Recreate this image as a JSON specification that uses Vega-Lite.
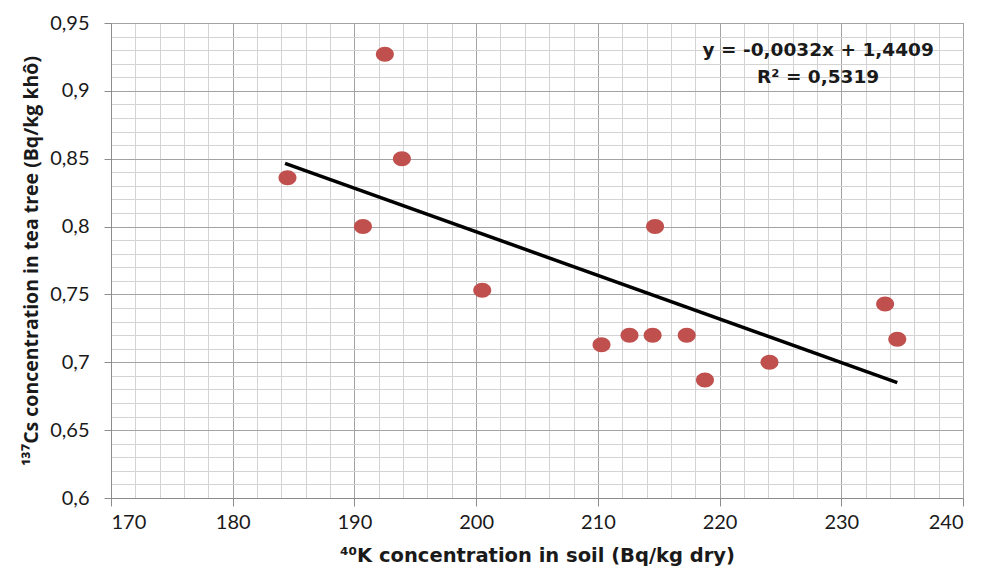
{
  "$schema": "https://vega.github.io/schema/vega-lite/v6.json",
  "width": 852,
  "height": 475,
  "autosize": {"type": "none"},
  "padding": {"left": 111, "top": 23, "right": 19, "bottom": 74},
  "background": "white",
  "config": {
    "font": "Lato",
    "view": {"stroke": "#9a9a9a", "strokeWidth": 1}
  },
  "data": {
    "values": [
      {"k": 184.5, "cs": 0.836},
      {"k": 192.5, "cs": 0.927},
      {"k": 193.9, "cs": 0.850},
      {"k": 190.7, "cs": 0.800},
      {"k": 200.5, "cs": 0.753},
      {"k": 210.3, "cs": 0.713},
      {"k": 212.6, "cs": 0.720},
      {"k": 214.5, "cs": 0.720},
      {"k": 214.7, "cs": 0.800},
      {"k": 217.3, "cs": 0.720},
      {"k": 218.8, "cs": 0.687},
      {"k": 224.1, "cs": 0.700},
      {"k": 233.6, "cs": 0.743},
      {"k": 234.6, "cs": 0.717}
    ]
  },
  "layer": [
    {
      "mark": {"type": "point", "opacity": 0},
      "encoding": {
        "x": {
          "field": "k", "type": "quantitative",
          "scale": {"domain": [170, 240], "nice": false, "zero": false},
          "axis": {
            "orient": "bottom",
            "values": [172,174,176,178,182,184,186,188,192,194,196,198,202,204,206,208,212,214,216,218,222,224,226,228,232,234,236,238],
            "grid": true, "gridColor": "#d3d3d3", "gridWidth": 1,
            "labels": false, "ticks": false, "domain": false, "title": null
          }
        },
        "y": {
          "field": "cs", "type": "quantitative",
          "scale": {"domain": [0.6, 0.95], "nice": false, "zero": false},
          "axis": {
            "orient": "left",
            "values": [0.61,0.62,0.63,0.64,0.66,0.67,0.68,0.69,0.71,0.72,0.73,0.74,0.76,0.77,0.78,0.79,0.81,0.82,0.83,0.84,0.86,0.87,0.88,0.89,0.91,0.92,0.93,0.94],
            "grid": true, "gridColor": "#d3d3d3", "gridWidth": 1,
            "labels": false, "ticks": false, "domain": false, "title": null
          }
        }
      }
    },
    {
      "mark": {
        "type": "point", "filled": true, "opacity": 1, "size": 324,
        "shape": "M -1 0 A 1 0.833 0 1 0 1 0 A 1 0.833 0 1 0 -1 0 Z",
        "color": "#c0504d"
      },
      "encoding": {
        "x": {
          "field": "k", "type": "quantitative",
          "axis": {
            "orient": "bottom",
            "values": [170,180,190,200,210,220,230,240],
            "grid": true, "gridColor": "#a3a3a3", "gridWidth": 1,
            "domainColor": "#8c8c8c", "tickColor": "#8c8c8c", "tickSize": 8,
            "labelFontSize": 20, "labelColor": "#1a1a1a", "labelPadding": 6,
            "title": "⁴⁰K concentration in soil (Bq/kg dry)",
            "titleFont": "DejaVu Sans",
            "titleFontSize": 19.5, "titleFontWeight": "bold", "titleColor": "#1a1a1a",
            "titlePadding": 14
          }
        },
        "y": {
          "field": "cs", "type": "quantitative",
          "axis": {
            "orient": "left",
            "values": [0.6,0.65,0.7,0.75,0.8,0.85,0.9,0.95],
            "labelExpr": "replace(format(datum.value, '.2~f'), '.', ',')",
            "grid": true, "gridColor": "#a3a3a3", "gridWidth": 1,
            "domainColor": "#8c8c8c", "tickColor": "#8c8c8c", "tickSize": 7,
            "labelFontSize": 20, "labelColor": "#1a1a1a", "labelPadding": 15,
            "title": "¹³⁷Cs concentration in tea tree (Bq/kg khô)",
            "titleFont": "Open Sans",
            "titleFontSize": 19.5, "titleFontWeight": "bold", "titleColor": "#1a1a1a",
            "titlePadding": 8
          }
        }
      }
    },
    {
      "data": {"values": [{"k": 184.3, "cs": 0.8466}, {"k": 234.6, "cs": 0.685}]},
      "mark": {"type": "line", "color": "#000000", "strokeWidth": 3.5},
      "encoding": {
        "x": {"field": "k", "type": "quantitative", "axis": null},
        "y": {"field": "cs", "type": "quantitative", "axis": null}
      }
    },
    {
      "data": {"values": [
        {"k": 228.1, "cs": 0.930, "t": "y = -0,0032x + 1,4409"},
        {"k": 228.1, "cs": 0.910, "t": "R² = 0,5319"}
      ]},
      "mark": {"type": "text", "font": "DejaVu Sans", "fontSize": 18.5, "fontWeight": "bold", "color": "#1a1a1a", "align": "center", "baseline": "middle"},
      "encoding": {
        "x": {"field": "k", "type": "quantitative", "axis": null},
        "y": {"field": "cs", "type": "quantitative", "axis": null},
        "text": {"field": "t"}
      }
    }
  ],
  "resolve": {"axis": {"x": "independent", "y": "independent"}}
}
